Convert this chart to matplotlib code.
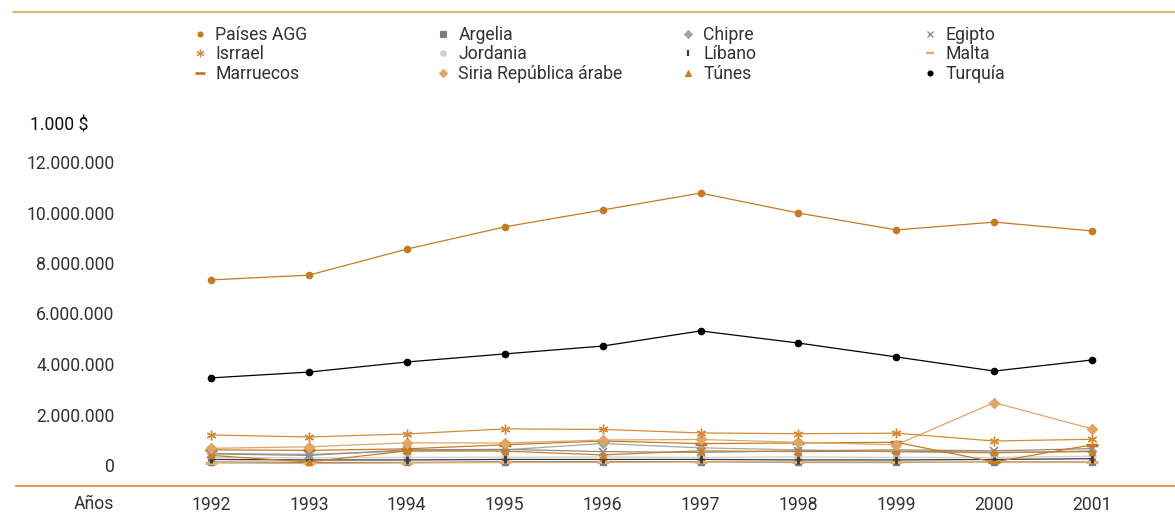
import matplotlib
matplotlib.use("Agg")
import matplotlib.pyplot as plt
from matplotlib.lines import Line2D

plt.rcParams['font.family'] = ['Roboto', 'DejaVu Sans']

years = [1992, 1993, 1994, 1995, 1996, 1997, 1998, 1999, 2000, 2001]

# values in thousand $
paises_agg = [7330000, 7520000, 8550000, 9430000, 10100000, 10770000, 9980000, 9310000, 9620000, 9270000]
turquia    = [3450000, 3680000, 4080000, 4400000, 4710000, 5310000, 4830000, 4280000, 3720000, 4160000]
israel     = [1190000, 1110000, 1230000, 1430000, 1410000, 1270000, 1240000, 1260000, 950000, 1020000]
siria      = [660000, 720000, 880000, 870000, 990000, 1010000, 900000, 800000, 2470000, 1430000]
marruecos  = [600000, 580000, 640000, 800000, 950000, 850000, 870000, 900000, 120000, 800000]
tunes      = [380000, 120000, 560000, 550000, 400000, 560000, 530000, 550000, 500000, 530000]
egipto     = [440000, 380000, 600000, 620000, 530000, 500000, 560000, 600000, 560000, 650000]
chipre     = [460000, 420000, 550000, 600000, 850000, 680000, 600000, 520000, 480000, 560000]
jordania   = [300000, 280000, 300000, 310000, 320000, 300000, 320000, 300000, 300000, 350000]
libano     = [220000, 200000, 200000, 220000, 220000, 220000, 200000, 200000, 220000, 250000]
argelia    = [120000, 100000, 100000, 130000, 130000, 130000, 100000, 100000, 120000, 120000]
malta      = [80000, 60000, 80000, 100000, 100000, 120000, 120000, 120000, 100000, 100000]

y_ticks = [0, 2000000, 4000000, 6000000, 8000000, 10000000, 12000000]
y_tick_labels = ['0', '2.000.000', '4.000.000', '6.000.000', '8.000.000', '10.000.000', '12.000.000']

C_DARK = '#C57A24'
C_ISR = '#D58B35'
C_SIR = '#DEA765'
C_MAL = '#E3AE6E'
C_TUN = '#CF7E1C'
LINE_C = '#D9A04E'
FS = 12.7

series = [
    # label, data, color, marker, msize, mew, lw
    ('Jordania', jordania, '#CFCFCF', 'o', 5, 1, 0.9),
    ('Argelia', argelia, '#7F7F7F', 's', 5, 1, 0.9),
    ('Malta', malta, C_MAL, '_', 8, 2.2, 0.9),
    ('Líbano', libano, '#3A3A3A', '|', 6, 2.0, 0.9),
    ('Chipre', chipre, '#A6A6A6', 'D', 4.5, 1, 0.9),
    ('Egipto', egipto, '#8C8C8C', 'x', 6, 1.2, 0.9),
    ('Túnes', tunes, C_TUN, '^', 5, 1, 0.9),
    ('Marruecos', marruecos, C_DARK, '_', 9, 2.5, 0.9),
    ('Siria República árabe', siria, C_SIR, 'D', 5.5, 1, 0.9),
    ('Isrrael', israel, C_ISR, (6, 2, 0), 7, 1.0, 0.9),
    ('Turquía', turquia, '#000000', 'o', 4.5, 1, 0.9),
    ('Países AGG', paises_agg, C_DARK, 'o', 4.5, 1, 0.9),
]

fig = plt.figure(figsize=(11.75, 5.15), dpi=100)
ax = fig.add_axes([130 / 1175, 45 / 515, 1020 / 1175, 320 / 515])

styles = {}
for label, data, color, marker, ms, mew, lw in series:
    ax.plot(years, data, color=color, lw=lw, marker=marker, markersize=ms,
            markeredgewidth=mew, markerfacecolor=color, markeredgecolor=color)
    styles[label] = (color, marker, ms, mew)

dx = 97.9
ax.set_xlim(1992 - (211 - 130) / dx, 1992 + (1150 - 211) / dx)
ax.set_ylim(-5 / 50.5 * 2000000, (465 - 150) / 50.5 * 2000000)

for s in ax.spines.values():
    s.set_visible(False)
ax.set_yticks(y_ticks)
ax.set_yticklabels(y_tick_labels)
ax.set_xticks(years)
ax.set_xticklabels([str(y) for y in years])
ax.tick_params(axis='y', length=0, pad=11, labelsize=FS, labelcolor='#333333')
ax.tick_params(axis='x', length=0, pad=19, labelsize=FS, labelcolor='#333333')

# decorative lines
fig.add_artist(Line2D([13 / 1175, 1], [1 - 12 / 515, 1 - 12 / 515], color=LINE_C, lw=1.1,
                      transform=fig.transFigure))
fig.add_artist(Line2D([16 / 1175, 1], [1 - 486 / 515, 1 - 486 / 515], color=LINE_C, lw=1.4,
                      transform=fig.transFigure))

fig.text(30 / 1175, 1 - 126 / 515, '1.000 $', fontsize=FS, color='#111111', ha='left', va='center')
fig.text(94 / 1175, 1 - 504 / 515, 'Años', fontsize=FS, color='#333333', ha='center', va='center')

# legend: 4 columns placed manually
columns = [
    (195, ['Países AGG', 'Isrrael', 'Marruecos']),
    (438, ['Argelia', 'Jordania', 'Siria República árabe']),
    (683, ['Chipre', 'Líbano', 'Túnes']),
    (925, ['Egipto', 'Malta', 'Turquía']),
]
for xpos, labels in columns:
    handles = []
    for lab in labels:
        color, marker, ms, mew = styles[lab]
        handles.append(Line2D([], [], linestyle='none', marker=marker, color=color,
                              markersize=ms * 0.8, markeredgewidth=mew * 0.8,
                              markerfacecolor=color, markeredgecolor=color))
    fig.legend(handles, labels, loc='upper left', bbox_to_anchor=(xpos / 1175, 1 - 26 / 515),
               frameon=False, borderpad=0, borderaxespad=0, handlelength=0.55,
               handletextpad=0.6, labelspacing=0.08, fontsize=FS, labelcolor='#333333',
               numpoints=1)

fig.savefig('out.png', dpi=100)
